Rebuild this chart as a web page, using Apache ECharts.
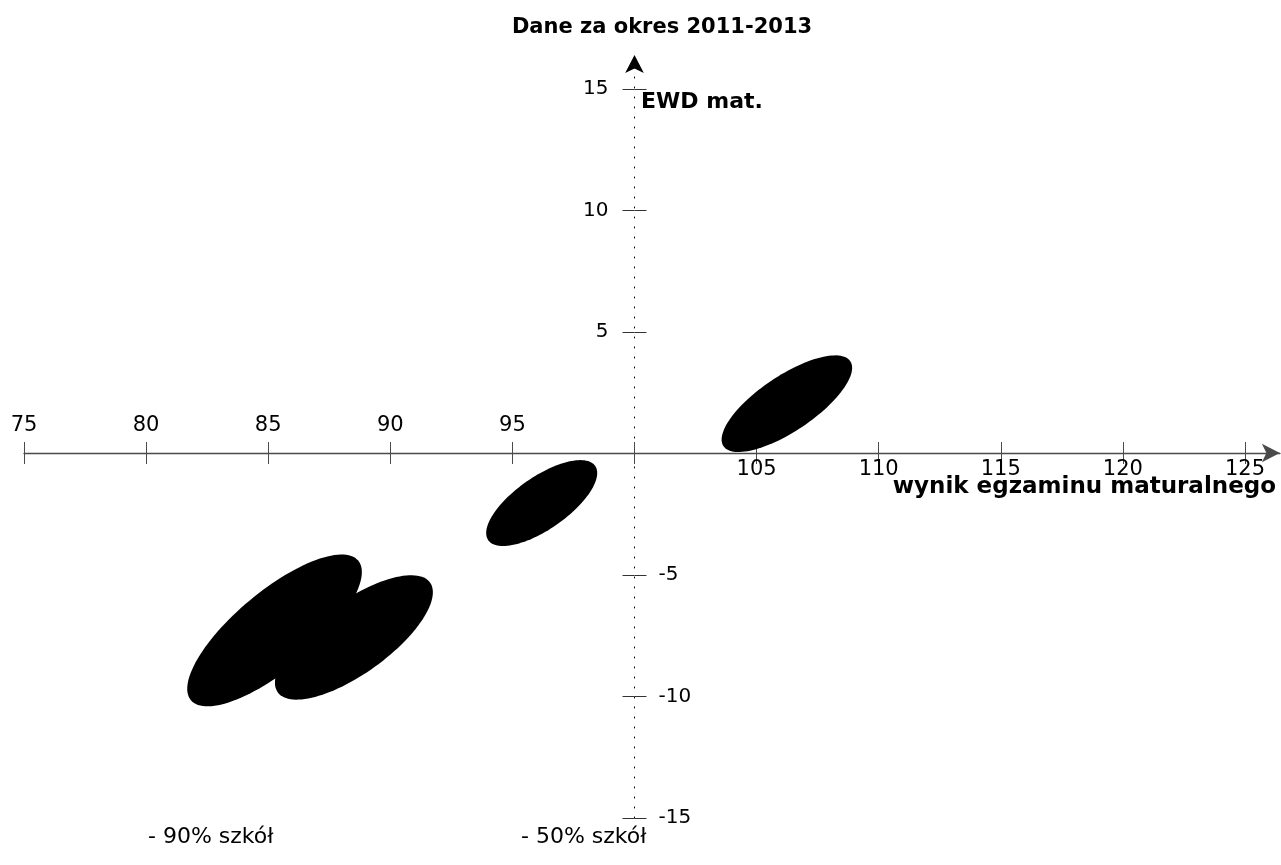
<!DOCTYPE html>
<html><head><meta charset="utf-8">
<script src="https://cdn.jsdelivr.net/npm/echarts@6/dist/echarts.min.js"></script>
<style>html,body{margin:0;padding:0;background:#fff}#c{width:1281px;height:865px}</style>
</head><body><div id="c"></div>
<script>
// ---- data ----
const xTicks = [75, 80, 85, 90, 95, 100, 105, 110, 115, 120, 125];
const xLabelsAbove = [75, 80, 85, 90, 95];
const xLabelsBelow = [105, 110, 115, 120, 125];
const yTicks = [15, 10, 5, -5, -10, -15];
const yLabelsLeft = [15, 10, 5];
const yLabelsRight = [-5, -10, -15];
// ellipses: centre (x, y), semi-axes in axis units, tilt in degrees
const ellipseCx = [85.26, 88.51, 96.2, 106.24];
const ellipseCy = [-7.28, -7.57, -2.04, 2.05];
const ellipseA = [4.47, 3.85, 2.67, 3.13];
const ellipseB = [1.6, 1.48, 1.08, 1.14];
const ellipseTilt = [40, 36, 35, 34];
const titleText = 'Dane za okres 2011-2013';
const xName = 'wynik egzaminu maturalnego';
const yName = 'EWD mat.';
const legendTexts = ['- 90% szkół', '- 50% szkół'];

const FONT = 'DejaVu Sans';
const ellipseData = ellipseCx.map((cx, i) => [cx, ellipseCy[i], ellipseA[i], ellipseB[i], ellipseTilt[i]]);

const chart = echarts.init(document.getElementById('c'));
const axisColor = '#4a4a4a';
const xLabelStyle = { fontFamily: FONT, fontSize: 21, color: '#000' };
const yLabelStyle = { fontFamily: FONT, fontSize: 20, color: '#000' };
const X_MIN = 75, X_MAX = 126.43, Y_MIN = -15, Y_MAX = 16.4;

chart.setOption({
  backgroundColor: '#fff',
  animation: false,
  grid: [
    { left: 24, right: 1.1, top: 55, bottom: 47, outerBoundsMode: 'none', containLabel: false },
    { left: 24, right: 1.1, top: 55, bottom: 412, outerBoundsMode: 'none', containLabel: false }
  ],
  xAxis: [
    { // data axis (hidden)
      gridIndex: 0, type: 'value', min: X_MIN, max: X_MAX, show: false
    },
    {
      gridIndex: 1, type: 'value', min: X_MIN, max: X_MAX, position: 'bottom',
      axisLine: { show: true, onZero: false, symbol: ['none', 'arrow'], symbolSize: [14, 18],
        lineStyle: { color: axisColor, width: 1.4 } },
      axisTick: { show: true, inside: true, length: 11, customValues: xTicks, lineStyle: { color: axisColor } },
      axisLabel: Object.assign({ inside: true, margin: 17, customValues: xLabelsAbove }, xLabelStyle),
      splitLine: { show: false }
    },
    {
      gridIndex: 1, type: 'value', min: X_MIN, max: X_MAX, position: 'bottom',
      axisLine: { show: false, onZero: false },
      axisTick: { show: true, inside: false, length: 11, customValues: xTicks, lineStyle: { color: axisColor } },
      axisLabel: Object.assign({ inside: false, margin: 6, customValues: xLabelsBelow }, xLabelStyle),
      splitLine: { show: false }
    }
  ],
  yAxis: [
    {
      gridIndex: 0, type: 'value', min: Y_MIN, max: Y_MAX, position: 'left', offset: -610.5,
      axisLine: { show: true, onZero: false, symbol: ['none', 'arrow'], symbolSize: [14, 18],
        lineStyle: { color: '#000', width: 1, type: [1, 9] } },
      axisTick: { show: true, inside: false, length: 12, customValues: yTicks, lineStyle: { color: '#333' } },
      axisLabel: Object.assign({ inside: false, margin: 26, customValues: yLabelsLeft }, yLabelStyle),
      splitLine: { show: false }
    },
    {
      gridIndex: 0, type: 'value', min: Y_MIN, max: Y_MAX, position: 'left', offset: -610.5,
      axisLine: { show: false, onZero: false },
      axisTick: { show: true, inside: true, length: 12, customValues: yTicks, lineStyle: { color: '#333' } },
      axisLabel: Object.assign({ inside: true, margin: 24, customValues: yLabelsRight }, yLabelStyle),
      splitLine: { show: false }
    },
    { gridIndex: 1, type: 'value', min: 0, max: 1, show: false }
  ],
  series: [{
    type: 'custom',
    xAxisIndex: 0, yAxisIndex: 0,
    clip: false,
    encode: { x: 0, y: 1 },
    data: ellipseData,
    renderItem: function (params, api) {
      const cx = api.value(0), cy = api.value(1), a = api.value(2), b = api.value(3);
      const t = api.value(4) * Math.PI / 180;
      const pts = [];
      const n = 120;
      for (let i = 0; i < n; i++) {
        const s = i / n * 2 * Math.PI;
        const dx = a * Math.cos(s), dy = b * Math.sin(s);
        pts.push(api.coord([cx + dx * Math.cos(t) - dy * Math.sin(t), cy + dx * Math.sin(t) + dy * Math.cos(t)]));
      }
      return { type: 'polygon', shape: { points: pts }, style: { fill: '#000' } };
    }
  }],
  graphic: [
    { type: 'text', x: 662, y: 17, style: { text: titleText, font: 'bold 21px "' + FONT + '"', fill: '#000', align: 'center' } },
    { type: 'text', x: 641, y: 91, style: { text: yName, font: 'bold 22px "' + FONT + '"', fill: '#000' } },
    { type: 'text', x: 1276, y: 476, style: { text: xName, font: 'bold 23px "' + FONT + '"', fill: '#000', align: 'right' } },
    { type: 'text', x: 148, y: 826, style: { text: legendTexts[0], font: '22px "' + FONT + '"', fill: '#000' } },
    { type: 'text', x: 521, y: 826, style: { text: legendTexts[1], font: '22px "' + FONT + '"', fill: '#000' } }
  ]
});
</script>
</body></html>
